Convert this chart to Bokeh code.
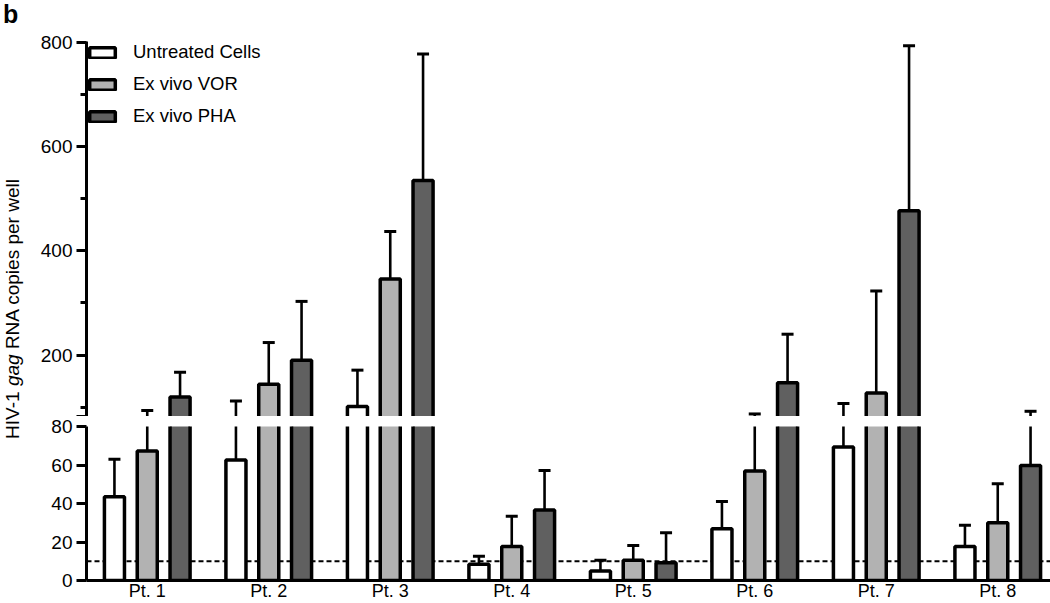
from bokeh.plotting import figure
from bokeh.models import (ColumnDataSource, FactorRange, Range1d, FixedTicker,
                          Span, Legend, LegendItem, Div)
from bokeh.layouts import row, column
from bokeh.transform import dodge
from bokeh.embed import file_html
from bokeh.resources import INLINE

# ---------------- data ----------------
categories = ["Pt. 1", "Pt. 2", "Pt. 3", "Pt. 4", "Pt. 5", "Pt. 6", "Pt. 7", "Pt. 8"]
untreated = [43.5, 62.6, 101, 8.4, 4.9, 26.9, 69.4, 17.6]
untreated_sem = [19.5, 49.4, 70, 4.2, 5.6, 14.1, 37.6, 11.1]
vor = [67.3, 144, 346, 17.6, 10.5, 56.9, 127, 30.0]
vor_sem = [26, 80, 91, 15.8, 7.7, 30, 196, 20.2]
pha = [119.5, 190, 535, 36.6, 9.2, 147, 477, 59.8]
pha_sem = [47.5, 113, 243, 20.5, 15.6, 93, 317, 32.2]
detection_limit = 10
series_names = ["Untreated Cells", "Ex vivo VOR", "Ex vivo PHA"]
upper_ticks = [200, 400, 600, 800]
upper_minor_ticks = [100, 300, 500, 700]
lower_ticks = [0, 20, 40, 60, 80]

FONT = "Liberation Sans"

data = dict(pt=categories)
for key, vals, errs in (("untreated", untreated, untreated_sem),
                        ("vor", vor, vor_sem),
                        ("pha", pha, pha_sem)):
    data[key] = vals
    data[key + "_mid"] = [v / 2 for v in vals]
    data[key + "_top"] = [v + e for v, e in zip(vals, errs)]
src = ColumnDataSource(data)

series = [
    (series_names[0], "untreated", -0.27, "#ffffff"),
    (series_names[1], "vor", 0.0, "#b2b2b2"),
    (series_names[2], "pha", 0.27, "#606060"),
]

xr = FactorRange(*categories, range_padding=0)


def draw(p):
    out = []
    for label, key, off, col in series:
        xs = dodge("pt", off, range=p.x_range)
        p.segment(x0=xs, y0=key, x1=xs, y1=key + "_top", source=src,
                  line_width=2.6, line_color="black")
        p.scatter(x=xs, y=key + "_top", marker="dash", size=12, line_width=3,
                  line_color="black", source=src)
        r = p.rect(x=xs, y=key + "_mid", width=0.165, height=key, fill_color=col,
                   line_color="black", line_width=3.5, source=src)
        out.append((label, r))
    return out


def style_y(ax, size):
    ax.axis_line_width = 3
    ax.axis_line_color = "black"
    ax.major_tick_line_width = 3
    ax.major_tick_out = 10
    ax.major_tick_in = 0
    ax.minor_tick_line_width = 3
    ax.minor_tick_out = 6
    ax.minor_tick_in = 0
    ax.major_label_text_font = FONT
    ax.major_label_text_font_size = size
    ax.major_label_text_color = "black"
    ax.major_label_standoff = 4


common = dict(width=1022, x_range=xr, output_backend="svg", toolbar_location=None,
              min_border_left=50, min_border_right=0)

# ---------------- upper segment ----------------
top = figure(height=416, y_range=Range1d(82, 802), x_axis_location=None,
             min_border_top=41, min_border_bottom=0, **common)
rs = draw(top)
top.yaxis.ticker = FixedTicker(ticks=[82] + upper_ticks, minor_ticks=upper_minor_ticks)
top.yaxis.major_label_overrides = {82: ""}
style_y(top.yaxis[0], "19px")
top.xgrid.visible = False
top.ygrid.visible = False
top.outline_line_color = None

legend = Legend(items=[LegendItem(label=l, renderers=[r]) for l, r in rs],
                location="top_left", padding=0, margin=0, spacing=10,
                glyph_width=32, glyph_height=13, label_standoff=15,
                label_text_font=FONT, label_text_font_size="18.5px",
                label_text_color="black",
                border_line_color=None, background_fill_alpha=0)
top.add_layout(legend)

# ---------------- lower segment ----------------
bot = figure(height=187, y_range=Range1d(0, 80),
             min_border_top=10, min_border_bottom=23, **common)
bot.add_layout(Span(location=detection_limit, dimension="width", line_color="black",
                    line_width=2, line_dash="5 3", level="underlay"))
draw(bot)
bot.yaxis.ticker = FixedTicker(ticks=lower_ticks, minor_ticks=[])
style_y(bot.yaxis[0], "19px")
bot.xaxis.axis_line_width = 3
bot.xaxis.axis_line_color = "black"
bot.xaxis.major_tick_line_color = None
bot.xaxis.minor_tick_line_color = None
bot.xaxis.major_tick_out = 0
bot.xaxis.major_tick_in = 0
bot.xaxis.minor_tick_out = 0
bot.xaxis.minor_tick_in = 0
bot.xaxis.major_label_text_font = FONT
bot.xaxis.major_label_text_font_size = "18px"
bot.xaxis.major_label_text_color = "black"
bot.xaxis.major_label_standoff = 0
bot.xgrid.visible = False
bot.ygrid.visible = False
bot.outline_line_color = None

# ---------------- y label + panel letter ----------------
html = (
    '<div style="position:relative;width:26px;height:603px;'
    "font-family:'Liberation Sans',Arial,sans-serif;color:black;\">"
    '<div style="position:absolute;left:-2px;top:-8px;font-weight:bold;font-size:25px;">b</div>'
    '<span style="position:absolute;left:8px;top:304px;'
    'transform:translate(-50%,-50%) rotate(-90deg);font-size:19px;line-height:22px;'
    'white-space:nowrap;">HIV-1 <i>gag</i> RNA copies per well</span></div>'
)
ylab = Div(text=html, width=26, height=603)

layout = row(ylab, column(top, bot, spacing=0), spacing=0)

open("out.html", "w").write(file_html(layout, INLINE))
